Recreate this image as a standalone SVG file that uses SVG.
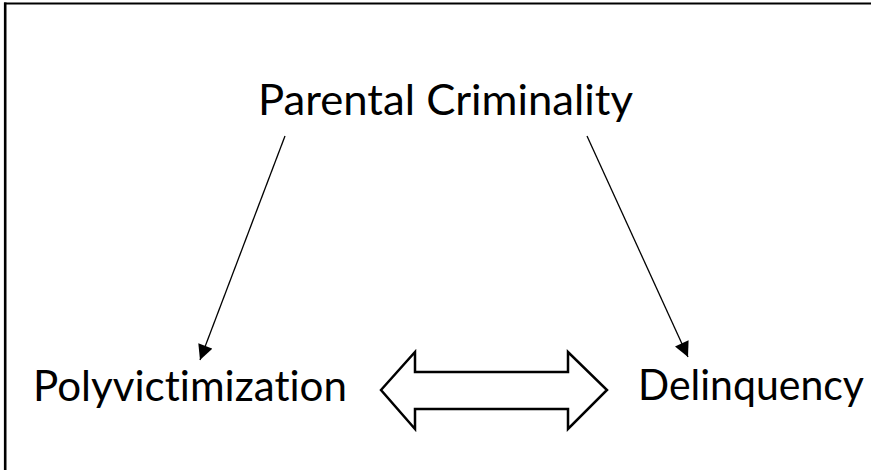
<svg xmlns="http://www.w3.org/2000/svg" width="871" height="470" viewBox="0 0 871 470">
  <style>
    .lbl { font-family: Lato, "Open Sans", "Liberation Sans", sans-serif; font-size: 43px; fill: #000; font-variant-ligatures: none; }
    .edge { stroke: #000; stroke-width: 1.3; fill: none; }
    .frame { stroke: #000; fill: none; }
  </style>
  <defs>
    <marker id="ah" viewBox="0 0 10 10" refX="10" refY="5" markerWidth="17" markerHeight="15" markerUnits="userSpaceOnUse" orient="auto">
      <path d="M0,0 L10,5 L0,10 z" fill="#000"/>
    </marker>
  </defs>
  <rect width="871" height="470" fill="#fff"/>
  <g id="frame">
    <line class="frame" x1="4" y1="3.5" x2="871" y2="3.5" stroke-width="2.2"/>
    <line class="frame" x1="5.2" y1="2.5" x2="5.2" y2="470" stroke-width="2.6"/>
  </g>
  <g id="node-parental">
    <text class="lbl" x="258" y="115" textLength="375" lengthAdjust="spacingAndGlyphs">Parental Criminality</text>
  </g>
  <g id="node-polyvictimization">
    <text class="lbl" x="33" y="401" textLength="314" lengthAdjust="spacingAndGlyphs">Polyvictimization</text>
  </g>
  <g id="node-delinquency">
    <text class="lbl" x="638" y="400" textLength="226" lengthAdjust="spacingAndGlyphs">Delinquency</text>
  </g>
  <g id="connectors">
    <line class="edge" x1="285" y1="136" x2="200" y2="360" marker-end="url(#ah)"/>
    <line class="edge" x1="587" y1="136" x2="688" y2="357" marker-end="url(#ah)"/>
    <polygon points="381,390 415,352 415,372 568,372 568,352 607,390 568,429 568,409 415,409 415,429" fill="#fff" stroke="#000" stroke-width="2.5" stroke-linejoin="miter"/>
  </g>
</svg>
